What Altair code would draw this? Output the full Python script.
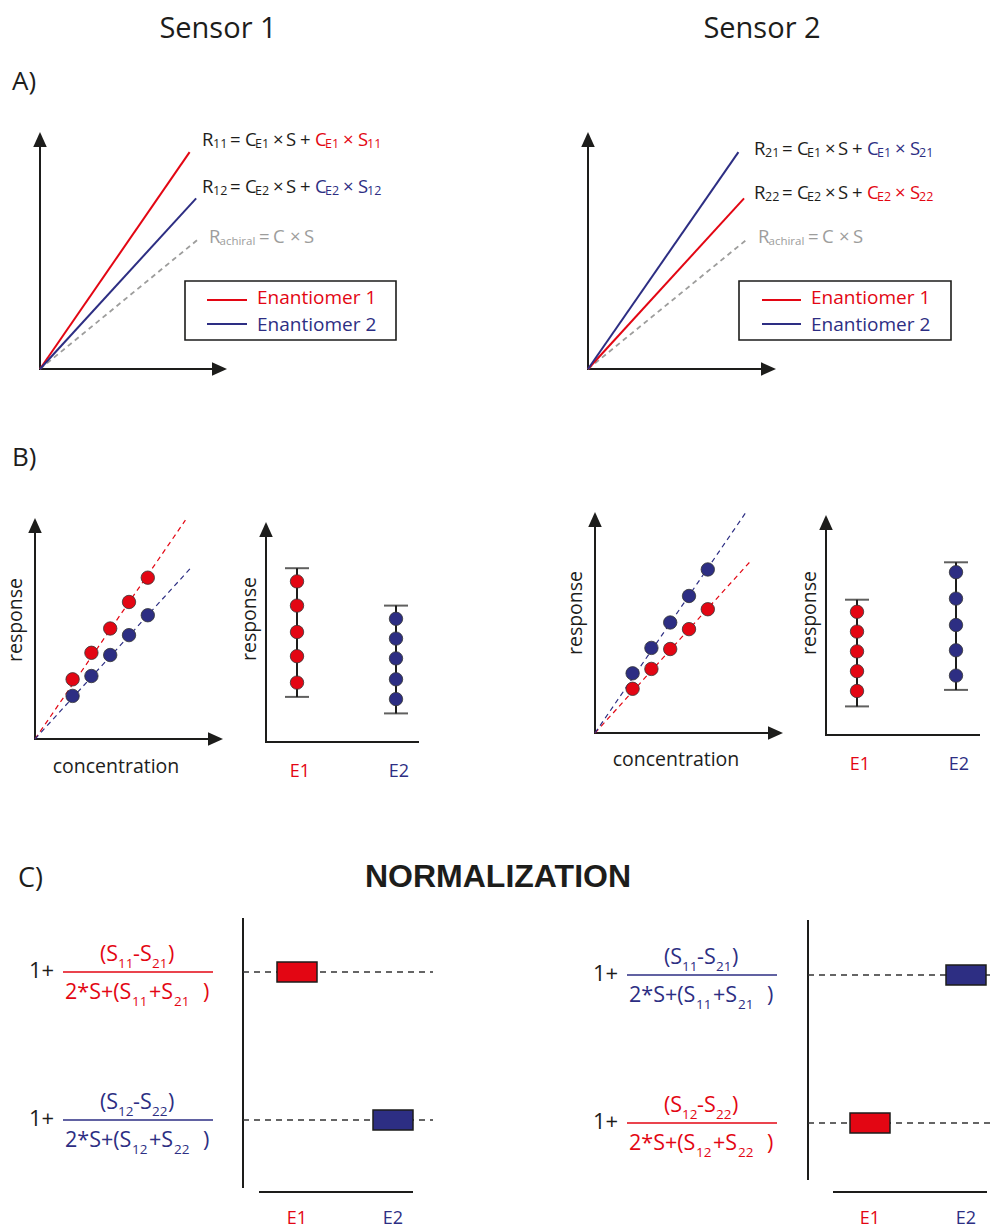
import altair as alt
import pandas as pd

RED = "#E30613"
BLUE = "#2D2E83"
GRAY = "#9D9D9C"
INK = "#1D1D1B"
EDGE = "#333333"
FONT = "Open Sans"

# ---------------- data ----------------
ENANTIOMERS = ["E1", "E2"]
HEX = {"E1": RED, "E2": BLUE}

# A) ideal calibration rays (end point of each ray, arbitrary units 0-10), order E1, E2
A_S1_CONC_END = [8.0, 8.35]
A_S1_RESP_END = [9.15, 7.2]
A_S2_CONC_END = [8.3, 8.0]
A_S2_RESP_END = [7.2, 9.15]
A_ACHIRAL_CONC_END = [8.5]
A_ACHIRAL_RESP_END = [5.5]

# B) measured responses
B_CONC = [2, 3, 4, 5, 6]
B_S1_E1 = [2.7, 3.9, 5.0, 6.2, 7.3]
B_S1_E2 = [1.95, 2.85, 3.8, 4.7, 5.6]
B_S2_E1 = [2.0, 2.9, 3.8, 4.7, 5.6]
B_S2_E2 = [2.7, 3.85, 5.0, 6.2, 7.4]
B_S1_FIT_CONC_END = [8.0, 8.35]
B_S1_FIT_RESP_END = [9.9, 7.8]
B_S2_FIT_CONC_END = [8.3, 8.0]
B_S2_FIT_RESP_END = [7.8, 9.95]
B_S1_BAR_LO = [2.05, 1.3]
B_S1_BAR_HI = [7.9, 6.2]
B_S2_BAR_LO = [1.3, 2.05]
B_S2_BAR_HI = [6.15, 7.85]

# Equation subscripts / colouring
A_S1_EQ_SUBS = [("11", "E1"), ("12", "E2")]
A_S2_EQ_SUBS = [("21", "E1"), ("22", "E2")]
A_S1_EQ_HIGHER = ["E1", "E2"]
A_S2_EQ_HIGHER = ["E2", "E1"]

# C) normalization
C_ROWS = ["row 1", "row 2"]
C_SUBS = [("11", "21"), ("12", "22")]
C_S1_HIGHER = ["E1", "E2"]
C_S2_HIGHER = ["E2", "E1"]

# ---------------- helpers ----------------
SEED = pd.DataFrame({"k": [0]})
COLOR = alt.Color("enantiomer:N", scale=alt.Scale(domain=ENANTIOMERS, range=[RED, BLUE]), legend=None)
UP = "M0,0L0.45,1L-0.45,1Z"
RIGHT = "M0,0L-1,0.45L-1,-0.45Z"
BOX = "M-1,-0.5L1,-0.5L1,0.5L-1,0.5Z"


def lin(rng, dom=(0, 10)):
    return alt.Scale(domain=list(dom), range=list(rng), nice=False, zero=False)


def pts(rng, dom):
    return alt.Scale(type="point", domain=list(dom), range=list(rng), padding=0)


def label(s, x, y, size, color=INK, align="left", angle=0, weight="normal", font=FONT):
    return alt.Chart(SEED).mark_text(
        text=s, align=align, baseline="alphabetic", fontSize=size, font=font,
        fontWeight=weight, color=color, angle=angle
    ).encode(x=alt.value(x), y=alt.value(y))


def seg(x1, y1, x2, y2, color=INK, width=2.0, dash=None):
    kw = dict(color=color, strokeWidth=width)
    if dash:
        kw["strokeDash"] = dash
    return alt.Chart(SEED).mark_rule(**kw).encode(
        x=alt.value(x1), y=alt.value(y1), x2=alt.value(x2), y2=alt.value(y2))


def head(x, y, shape):
    return alt.Chart(SEED).mark_point(
        shape=shape, size=900, filled=True, color=INK, opacity=1, strokeWidth=0
    ).encode(x=alt.value(x), y=alt.value(y))


def frame(ox, oy, top, right, x_arrow=True):
    out = [seg(ox, oy + 1, ox, top + 10), head(ox, top, UP)]
    out.append(seg(ox - 1, oy, right - (10 if x_arrow else 0), oy))
    if x_arrow:
        out.append(head(right, oy, RIGHT))
    return out


def ray_df(conc_end, resp_end, names):
    rows = []
    for n, c, r in zip(names, conc_end, resp_end):
        rows.append({"enantiomer": n, "conc": 0.0, "resp": 0.0})
        rows.append({"enantiomer": n, "conc": c, "resp": r})
    return pd.DataFrame(rows)


def equation(x, y, rsub, esub, col):
    parts = [("R", 0, 0, INK), (rsub, 11, 1, INK), ("=", 28, 0, INK), ("C", 43, 0, INK),
             (esub, 53, 1, INK), ("×", 71, 0, INK), ("S", 84, 0, INK), ("+", 98, 0, INK),
             ("C", 113, 0, col), (esub, 123, 1, col), ("×", 141, 0, col), ("S", 156, 0, col),
             (rsub, 165, 1, col)]
    return [label(t, x + dx, y + (2 if s else 0), 12.5 if s else 18.5, c) for t, dx, s, c in parts]


def achiral_eq(x, y):
    parts = [("R", 0, 0), ("achiral", 10.5, 1), ("=", 50, 0), ("C", 64, 0), ("×", 81, 0), ("S", 95, 0)]
    return [label(t, x + dx, y + (2 if s else 0), 11.5 if s else 18.5, GRAY) for t, dx, s in parts]


def fraction(x0, ly, subs, color):
    a, b = subs
    nb, nsb = ly - 11, ly - 4
    db, dsb = ly + 27, ly + 34
    return [
        label("1+", x0, ly + 6, 22, INK),
        seg(x0 + 34, ly, x0 + 184, ly, color=color, width=1.6),
        label("(S", x0 + 71, nb, 21.5, color), label(a, x0 + 89, nsb, 13.5, color),
        label("-S", x0 + 104, nb, 21.5, color), label(b, x0 + 123, nsb, 13.5, color),
        label(")", x0 + 139, nb, 21.5, color),
        label("2*S+(S", x0 + 36, db, 21.5, color), label(a, x0 + 103, dsb, 13.5, color),
        label("+S", x0 + 120, db, 21.5, color), label(b, x0 + 145, dsb, 13.5, color),
        label(")", x0 + 174, db, 21.5, color),
    ]


# ---------------- panels ----------------
def panel_a(geo, conc_end, resp_end, eq_x, eq_ys, subs, higher, rach_x, box, leg_x, leg_tx):
    ox, oy, top, right = geo
    X = alt.X("conc:Q", scale=lin([ox, right]), axis=None)
    Y = alt.Y("resp:Q", scale=lin([oy, top]), axis=None)
    achiral = alt.Chart(ray_df(A_ACHIRAL_CONC_END, A_ACHIRAL_RESP_END, ["achiral"])).mark_line(
        color=GRAY, strokeWidth=1.8, strokeDash=[5, 4]).encode(x=X, y=Y)
    rays = alt.Chart(ray_df(conc_end, resp_end, ENANTIOMERS)).mark_line(strokeWidth=2).encode(
        x=X, y=Y, color=COLOR, detail="enantiomer:N")
    layers = frame(ox, oy, top, right) + [achiral, rays]
    for (rs, es), h, y in zip(subs, higher, eq_ys):
        layers += equation(eq_x, y, rs, es, HEX[h])
    layers += achiral_eq(rach_x, 243)
    x0, y0, x1, y1 = box
    layers.append(alt.Chart(SEED).mark_rect(fill="white", fillOpacity=0, stroke=INK, strokeWidth=1.6).encode(
        x=alt.value(x0), x2=alt.value(x1), y=alt.value(y0), y2=alt.value(y1)))
    for e, ly, ty in zip(ENANTIOMERS, [300, 324], [304, 331]):
        layers.append(seg(leg_x[0], ly, leg_x[1], ly, color=HEX[e], width=1.8))
        layers.append(label("Enantiomer " + e[1], leg_tx, ty, 19, HEX[e]))
    return alt.layer(*layers)


def panel_b(sc, dp, e1, e2, fit_c, fit_r, lo, hi, conc_lab, resp_labs, e_lab_y):
    ox, oy, top, right = sc
    X = alt.X("conc:Q", scale=lin([ox, right]), axis=None)
    Y = alt.Y("resp:Q", scale=lin([oy, top]), axis=None)
    pdf = pd.DataFrame({"enantiomer": ["E1"] * len(e1) + ["E2"] * len(e2),
                        "conc": B_CONC + B_CONC, "resp": e1 + e2})
    fits = alt.Chart(ray_df(fit_c, fit_r, ENANTIOMERS)).mark_line(strokeWidth=1.2, strokeDash=[5, 4]).encode(
        x=X, y=Y, color=COLOR, detail="enantiomer:N")
    dots = alt.Chart(pdf).mark_point(filled=True, size=180, opacity=1, stroke=EDGE, strokeWidth=0.8).encode(
        x=X, y=Y, color=COLOR)
    scatter = alt.layer(*(frame(ox, oy, top, right) + [fits, dots]))

    dox, doy, dtop, dright, ex1, ex2 = dp
    DX = alt.X("enantiomer:N", scale=pts([ex1, ex2], ENANTIOMERS), axis=None)
    ys = lin([doy, dtop])
    bdf = pd.DataFrame({"enantiomer": ENANTIOMERS, "lo": lo, "hi": hi})
    bar = alt.Chart(bdf).mark_rule(color=INK, strokeWidth=2).encode(
        x=DX, y=alt.Y("lo:Q", scale=ys, axis=None), y2="hi:Q")
    cap_lo = alt.Chart(bdf).mark_tick(color=INK, size=24, thickness=2, orient="horizontal").encode(
        x=DX, y=alt.Y("lo:Q", scale=ys, axis=None))
    cap_hi = alt.Chart(bdf).mark_tick(color=INK, size=24, thickness=2, orient="horizontal").encode(
        x=DX, y=alt.Y("hi:Q", scale=ys, axis=None))
    col = alt.Chart(pdf).mark_point(filled=True, size=180, opacity=1, stroke=EDGE, strokeWidth=0.8).encode(
        x=DX, y=alt.Y("resp:Q", scale=ys, axis=None), color=COLOR)
    elabs = alt.Chart(pd.DataFrame({"enantiomer": ENANTIOMERS})).mark_text(
        fontSize=18, font=FONT, baseline="alphabetic", dx=3).encode(
        x=DX, y=alt.value(e_lab_y), text="enantiomer:N", color=COLOR)
    dotplot = alt.layer(*(frame(dox, doy, dtop, dright, x_arrow=False) + [bar, cap_lo, cap_hi, col, elabs]))

    texts = [label("concentration", conc_lab[0], conc_lab[1], 19.5, align="center")]
    for (x, y) in resp_labs:
        texts.append(label("response", x, y, 19.5, align="center", angle=270))
    return [scatter, dotplot] + texts


def panel_c(fx0, line_ys, vline, dash_x, bottom, xr, higher, lab_y):
    xs = pts(xr, ENANTIOMERS)
    Yr = alt.Y("row:N", scale=pts(line_ys, C_ROWS), axis=None)
    df = pd.DataFrame({"row": C_ROWS, "enantiomer": higher})
    dash = alt.Chart(df).mark_rule(color=EDGE, strokeWidth=1.5, strokeDash=[6, 5]).encode(
        y=Yr, x=alt.value(dash_x[0]), x2=alt.value(dash_x[1]))
    boxes = alt.Chart(df).mark_point(shape=BOX, size=1600, filled=True, opacity=1, stroke=INK,
                                     strokeWidth=1.5).encode(
        x=alt.X("enantiomer:N", scale=xs, axis=None), y=Yr, color=COLOR)
    elabs = alt.Chart(pd.DataFrame({"enantiomer": ENANTIOMERS})).mark_text(
        fontSize=18, font=FONT, baseline="alphabetic").encode(
        x=alt.X("enantiomer:N", scale=xs, axis=None), y=alt.value(lab_y), text="enantiomer:N", color=COLOR)
    layers = [seg(*vline), seg(*bottom), dash, boxes, elabs]
    for subs, h, ly in zip(C_SUBS, higher, line_ys):
        layers += fraction(fx0, ly, subs, HEX[h])
    return alt.layer(*layers)


pA1 = panel_a((40, 369, 132, 227), A_S1_CONC_END, A_S1_RESP_END, 202, [146, 193],
              A_S1_EQ_SUBS, A_S1_EQ_HIGHER, 209, (185, 281, 396, 340), (207, 247), 257)
pA2 = panel_a((588, 369, 132, 776), A_S2_CONC_END, A_S2_RESP_END, 754, [155, 199],
              A_S2_EQ_SUBS, A_S2_EQ_HIGHER, 758, (739, 281, 951, 340), (762, 801), 811)

pB1 = panel_b((35, 739, 518, 223), (266, 742, 522, 419, 297, 396), B_S1_E1, B_S1_E2,
              B_S1_FIT_CONC_END, B_S1_FIT_RESP_END, B_S1_BAR_LO, B_S1_BAR_HI,
              (116, 773), [(22, 620), (256, 619)], 777)
pB2 = panel_b((595, 733, 512, 783), (826, 735, 515, 980, 857, 956), B_S2_E1, B_S2_E2,
              B_S2_FIT_CONC_END, B_S2_FIT_RESP_END, B_S2_BAR_LO, B_S2_BAR_HI,
              (676, 766), [(582, 613), (816, 613)], 770)

pC1 = panel_c(29, [972, 1120], (243, 918, 243, 1188), (243, 433), (259, 1192, 413, 1192),
              [297, 393], C_S1_HIGHER, 1224)
pC2 = panel_c(593, [975, 1123], (808, 920, 808, 1180), (808, 992), (833, 1192, 987, 1192),
              [870, 966], C_S2_HIGHER, 1224)

titles = [
    label("Sensor 1", 218, 38, 29, align="center"),
    label("Sensor 2", 762, 38, 29, align="center"),
    label("A)", 12, 90, 26),
    label("B)", 12, 466, 26),
    label("C)", 18, 887, 27),
    label("NORMALIZATION", 498, 887, 32, align="center", weight="bold", font="Liberation Sans"),
]

chart = alt.layer(
    pA1, pA2, *pB1, *pB2, pC1, pC2, *titles
).resolve_scale(
    x="independent", y="independent"
).properties(
    width=992, height=1229, autosize=alt.AutoSizeParams(type="none"), padding=0,
    background="white"
).configure_view(stroke=None)

chart.save("out.html", embed_options={"renderer": "svg", "actions": False})
